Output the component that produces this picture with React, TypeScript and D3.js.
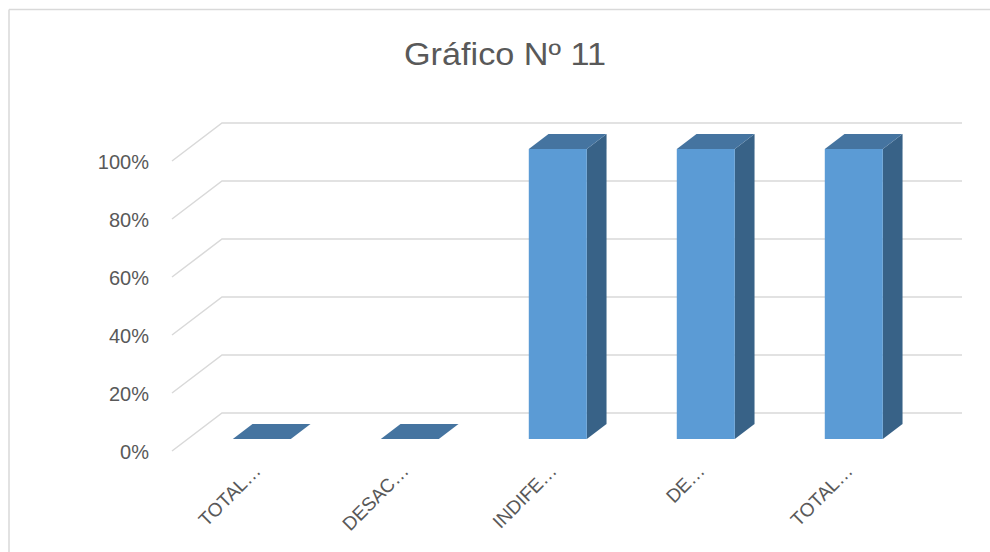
import React from "react";
import * as d3 from "d3";

const categories = ["TOTAL…", "DESAC…", "INDIFE…", "DE…", "TOTAL…"];
const values = [0, 0, 1, 1, 1];
const yTicks = [0, 0.2, 0.4, 0.6, 0.8, 1];
const title = "Gráfico Nº 11";

const W = 990;
const H = 552;
const DX = 50;
const DY = -38;
const D0 = 12 / 38;
const D1 = 27 / 38;

export default function App() {
  const x = d3.scaleBand<string>().domain(categories.map((c, i) => i + "")).range([172, 912]).padding(0);
  const y = d3.scaleLinear().domain([0, 1]).range([451, 161]);
  const fmt = d3.format(".0%");
  const P = (px: number, v: number, d: number): [number, number] => [px + DX * d, y(v) + DY * d];
  const poly = (pts: [number, number][]) => "M" + pts.map((p) => p.join(",")).join("L") + "Z";
  const bw = x.bandwidth() * 0.392;

  return (
    <svg width={W} height={H} style={{ position: "absolute", left: 0, top: 0, background: "#fff" }}>
      <rect x={0} y={0} width={W} height={H} fill="#fff" />
      <line x1={9} y1={9.5} x2={W} y2={9.5} stroke="#D9D9D9" strokeWidth={1.5} />
      <line x1={9} y1={9.5} x2={9} y2={H} stroke="#D9D9D9" strokeWidth={1.5} />
      <text x={505} y={65} textAnchor="middle" fontFamily="'Liberation Sans', Arial, sans-serif" fontSize={31} fill="#595959" textLength={202} lengthAdjust="spacingAndGlyphs">
        {title}
      </text>
      {yTicks.map((t) => {
        const a = P(172, t, 0);
        const b = P(172, t, 1);
        const c = P(912, t, 1);
        return (
          <g key={t}>
            <path d={`M${a[0]},${a[1]}L${b[0]},${b[1]}L${c[0]},${c[1]}`} fill="none" stroke="#D9D9D9" strokeWidth={1.5} />
            <text x={149} y={y(t) + 8} textAnchor="end" fontFamily="'Liberation Sans', Arial, sans-serif" fontSize={20} fill="#595959">
              {fmt(t)}
            </text>
          </g>
        );
      })}
      {values.map((v, i) => {
        const cx = (x(i + "") as number) + x.bandwidth() / 2;
        const l = cx - bw / 2;
        const r = cx + bw / 2;
        const front = poly([P(l, 0, D0), P(r, 0, D0), P(r, v, D0), P(l, v, D0)]);
        const side = poly([P(r, 0, D0), P(r, 0, D1), P(r, v, D1), P(r, v, D0)]);
        const top = poly([P(l, v, D0), P(r, v, D0), P(r, v, D1), P(l, v, D1)]);
        return (
          <g key={i}>
            {v > 0 && <path d={side} fill="#386287" />}
            {v > 0 && <path d={front} fill="#5B9BD5" />}
            <path d={top} fill="#4574A0" />
          </g>
        );
      })}
      {categories.map((c, i) => {
        const cx = (x(i + "") as number) + x.bandwidth() / 2 + 16;
        const ty = 472;
        return (
          <text key={i} x={cx} y={ty} textAnchor="end" transform={`rotate(-45,${cx},${ty})`} fontFamily="'Liberation Sans', Arial, sans-serif" fontSize={19} fill="#595959">
            {c}
          </text>
        );
      })}
    </svg>
  );
}
